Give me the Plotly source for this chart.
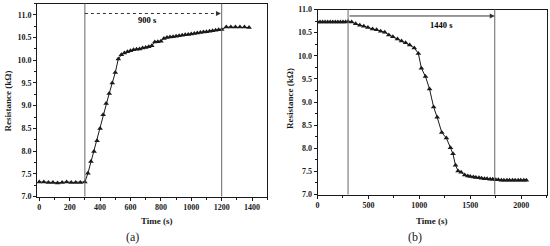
import plotly.graph_objects as go

# ---------------- data ----------------
time_a = [0, 30, 60, 90, 120, 150, 180, 210, 240, 270, 300,
          320, 340, 360, 380, 400, 420, 440, 460, 480, 500, 520, 540, 560, 580, 600,
          620, 640, 660, 680, 700, 720, 740, 760, 780, 800, 820, 840, 860, 880, 900,
          920, 940, 960, 980, 1000, 1020, 1040, 1060, 1080, 1100, 1120, 1140, 1160, 1180, 1200,
          1230, 1260, 1290, 1320, 1350, 1380]
res_a = [7.32, 7.32, 7.31, 7.31, 7.30, 7.31, 7.32, 7.31, 7.31, 7.31, 7.32,
         7.51, 7.77, 7.99, 8.23, 8.50, 8.80, 9.05, 9.27, 9.50, 9.73, 10.03, 10.12, 10.16, 10.19, 10.21,
         10.23, 10.24, 10.25, 10.27, 10.28, 10.30, 10.32, 10.40, 10.41, 10.42, 10.48, 10.50, 10.51, 10.52, 10.53,
         10.54, 10.55, 10.56, 10.57, 10.58, 10.59, 10.60, 10.61, 10.62, 10.63, 10.64, 10.65, 10.66, 10.67, 10.68,
         10.73, 10.73, 10.73, 10.73, 10.73, 10.72]

time_b = [0, 25, 50, 75, 100, 125, 150, 175, 200, 225, 250, 275, 300,
          335, 375, 415, 455, 495, 540, 580, 620, 660, 700, 740, 785, 825, 865, 905, 950, 990,
          1020, 1060, 1100, 1140, 1175, 1220, 1265, 1305, 1330, 1355, 1380, 1410, 1445,
          1475, 1500, 1530, 1555, 1585, 1610, 1640, 1665, 1695, 1720, 1750, 1775, 1805, 1830,
          1860, 1885, 1915, 1940, 1970, 1995, 2025, 2050]
res_b = [10.73, 10.73, 10.73, 10.73, 10.73, 10.73, 10.73, 10.73, 10.73, 10.73, 10.73, 10.73, 10.74,
         10.73, 10.69, 10.66, 10.64, 10.61, 10.58, 10.56, 10.53, 10.51, 10.45, 10.41, 10.36, 10.32, 10.28, 10.23, 10.17, 10.05,
         9.73, 9.55, 9.28, 8.89, 8.67, 8.34, 8.22, 8.01, 7.88, 7.63, 7.51, 7.48, 7.42,
         7.40, 7.39, 7.38, 7.37, 7.36, 7.35, 7.34, 7.34, 7.33, 7.33, 7.32, 7.32, 7.31, 7.31,
         7.31, 7.31, 7.31, 7.31, 7.31, 7.31, 7.31, 7.31]

xticks_a = [0, 200, 400, 600, 800, 1000, 1200, 1400]
xticks_b = [0, 500, 1000, 1500, 2000]
yticks = [7.0, 7.5, 8.0, 8.5, 9.0, 9.5, 10.0, 10.5, 11.0]

marks_a = [300, 1200]
marks_b = [300, 1740]

# ---------------- figure ----------------
W, H = 550, 246
def px(x):
    return x / W
def py(y):
    return 1 - y / H

SERIF = "Liberation Serif"
INK = "#1a1a1a"

fig = go.Figure()
fig.add_trace(go.Scatter(x=time_a, y=res_a, mode="lines+markers", xaxis="x", yaxis="y",
                         line=dict(color=INK, width=1),
                         marker=dict(symbol="triangle-up", size=5, color=INK),
                         showlegend=False))
fig.add_trace(go.Scatter(x=time_b, y=res_b, mode="lines+markers", xaxis="x2", yaxis="y2",
                         line=dict(color=INK, width=1),
                         marker=dict(symbol="triangle-up", size=5, color=INK),
                         showlegend=False))

tickfont = dict(family=SERIF, size=8, color=INK, weight="bold")
common = dict(showline=True, linecolor=INK, linewidth=1, mirror=True,
              ticks="outside", ticklen=3, tickwidth=1, tickcolor=INK,
              showgrid=False, zeroline=False, tickfont=tickfont)

fig.update_layout(
    width=W, height=H,
    margin=dict(l=0, r=0, t=0, b=0, autoexpand=False),
    paper_bgcolor="white", plot_bgcolor="white",
    xaxis=dict(domain=[px(37), px(267.3)], range=[-15, 1500], tickvals=xticks_a,
               minor=dict(ticks="outside", ticklen=2, dtick=100, tick0=0, tickcolor=INK),
               anchor="y", **common),
    yaxis=dict(domain=[py(196.5), py(3.5)], range=[7.0, 11.25], tickvals=yticks,
               tickformat=".1f",
               minor=dict(ticks="outside", ticklen=2, dtick=0.25, tick0=7, tickcolor=INK),
               anchor="x", **common),
    xaxis2=dict(domain=[px(317.5), px(546.7)], range=[0, 2250], tickvals=xticks_b,
                minor=dict(ticks="outside", ticklen=2, dtick=250, tick0=0, tickcolor=INK),
                anchor="y2", **common),
    yaxis2=dict(domain=[py(194.5), py(9.5)], range=[7.0, 11.0], tickvals=yticks,
                tickformat=".1f",
                minor=dict(ticks="outside", ticklen=2, dtick=0.25, tick0=7, tickcolor=INK),
                anchor="x2", **common),
)

# vertical marker lines
for xv in marks_a:
    fig.add_shape(type="line", xref="x", yref="y domain", x0=xv, x1=xv, y0=0, y1=1,
                  line=dict(color="#666", width=1))
for xv in marks_b:
    fig.add_shape(type="line", xref="x2", yref="y2 domain", x0=xv, x1=xv, y0=0, y1=1,
                  line=dict(color="#666", width=1))

# (a) dashed arrow 300 -> 1200
fig.add_shape(type="line", xref="x", yref="y", x0=marks_a[0], x1=1180, y0=11.03, y1=11.03,
              line=dict(color="#333", width=1, dash="dot"))
fig.add_annotation(x=1195, y=11.03, ax=1175, ay=11.03, xref="x", yref="y", axref="x", ayref="y",
                   showarrow=True, arrowhead=2, arrowsize=1, arrowwidth=1, arrowcolor="#333", text="")
fig.add_annotation(x=714, y=10.88, xref="x", yref="y", text="900 s", showarrow=False,
                   xanchor="center", yanchor="middle",
                   font=dict(family=SERIF, size=8.5, color="#000", weight="bold"))

# (b) solid arrow 300 -> 1740
fig.add_annotation(x=marks_b[1], y=10.86, ax=marks_b[0], ay=10.86, xref="x2", yref="y2",
                   axref="x2", ayref="y2", showarrow=True, arrowhead=2, arrowsize=1,
                   arrowwidth=1, arrowcolor="#333", text="")
fig.add_annotation(x=1216, y=10.66, xref="x2", yref="y2", text="1440 s", showarrow=False,
                   xanchor="center", yanchor="middle",
                   font=dict(family=SERIF, size=8.5, color="#000", weight="bold"))

# axis titles and panel labels
tfont = dict(family=SERIF, size=9, color=INK, weight="bold")
def note(x, y, text, font, angle=0):
    fig.add_annotation(x=px(x), y=py(y), xref="paper", yref="paper", text=text,
                       textangle=angle, showarrow=False, font=font,
                       xanchor="center", yanchor="middle")

note(7.5, 101, "Resistance (kΩ)", tfont, -90)
note(290, 99, "Resistance (kΩ)", tfont, -90)
note(157, 221, "Time (s)", tfont)
note(432, 221, "Time (s)", tfont)
lfont = dict(family=SERIF, size=12, color=INK)
note(132, 236.5, "(a)", lfont)
note(415, 236.5, "(b)", lfont)

fig.write_html("out.html", config={"displayModeBar": False},
               post_script="document.body.style.margin='0';document.body.style.overflow='hidden';")
